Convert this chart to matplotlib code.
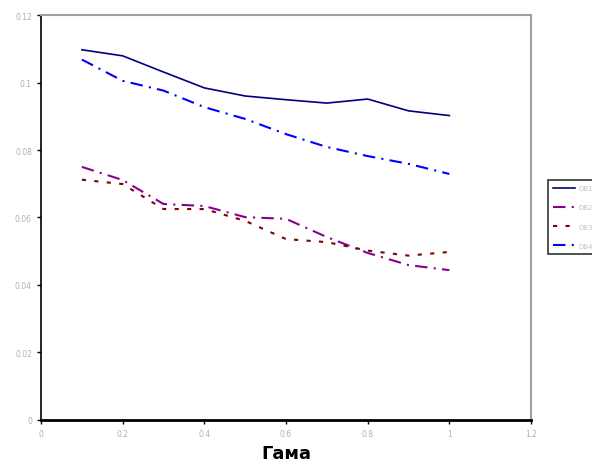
#!/usr/bin/env python3
"""Four decreasing curves vs gamma, Excel-style line chart."""

import matplotlib
matplotlib.use("Agg")
import matplotlib.pyplot as plt

gamma = [0.1, 0.2, 0.3, 0.4, 0.5, 0.6, 0.7, 0.8, 0.9, 1.0]

series_names = ["DB1", "DB2", "DB3", "DB4"]
s1 = [0.1097, 0.1079, 0.1031, 0.0984, 0.0960, 0.0949, 0.0939, 0.0951, 0.0916, 0.0902]
s2 = [0.0750, 0.0711, 0.0640, 0.0634, 0.0601, 0.0596, 0.0542, 0.0495, 0.0459, 0.0444]
s3 = [0.0712, 0.0699, 0.0625, 0.0625, 0.0590, 0.0536, 0.0527, 0.0502, 0.0487, 0.0498]
s4 = [0.1068, 0.1005, 0.0976, 0.0927, 0.0892, 0.0847, 0.0809, 0.0782, 0.0759, 0.0729]

x_ticks = [0, 0.2, 0.4, 0.6, 0.8, 1, 1.2]
x_labels = ["0", "0.2", "0.4", "0.6", "0.8", "1", "1.2"]
y_ticks = [0, 0.02, 0.04, 0.06, 0.08, 0.1, 0.12]
y_labels = ["0", "0.02", "0.04", "0.06", "0.08", "0.1", "0.12"]


def main():
    fig = plt.figure(figsize=(5.92, 4.64), dpi=100)
    ax = fig.add_axes([0.0693, 0.0927, 0.8277, 0.8728])

    styles = (
        (s1, "#000080", "-", 1.2),
        (s2, "#8b008b", (0, (6, 3, 1, 3)), 1.5),
        (s3, "#800000", (0, (2, 4)), 1.5),
        (s4, "#0000ff", (0, (6, 3, 1, 3)), 1.5),
    )
    for name, (ys, color, ls, lw) in zip(series_names, styles):
        ax.plot(gamma, ys, color=color, linestyle=ls, linewidth=lw, label=name)

    ax.set_xlim(0, 1.2)
    ax.set_ylim(0, 0.12)
    ax.set_xticks(x_ticks)
    ax.set_xticklabels(x_labels)
    ax.set_yticks(y_ticks)
    ax.set_yticklabels(y_labels)
    ax.tick_params(labelsize=5.5, labelcolor="#b0b0b0", length=3, width=1, direction="out")

    ax.spines["left"].set_color("black")
    ax.spines["left"].set_linewidth(1.2)
    ax.spines["bottom"].set_color("black")
    ax.spines["bottom"].set_linewidth(2)
    for side in ("top", "right"):
        ax.spines[side].set_color("#a0a0a0")
        ax.spines[side].set_linewidth(1.5)

    ax.set_xlabel("Гама", fontsize=13, fontweight="bold", labelpad=4)

    leg = ax.legend(
        loc="upper left",
        bbox_to_anchor=(0.919, 0.618),
        bbox_transform=fig.transFigure,
        fontsize=5,
        frameon=True,
        fancybox=False,
        borderpad=0.8,
        labelspacing=1.9,
        handlelength=3.2,
        handletextpad=0.4,
    )
    leg.get_frame().set_edgecolor("black")
    leg.get_frame().set_linewidth(1.2)
    for t in leg.get_texts():
        t.set_color("#c0c0c0")

    fig.savefig("out.png", dpi=100)
    plt.close(fig)


if __name__ == "__main__":
    main()
